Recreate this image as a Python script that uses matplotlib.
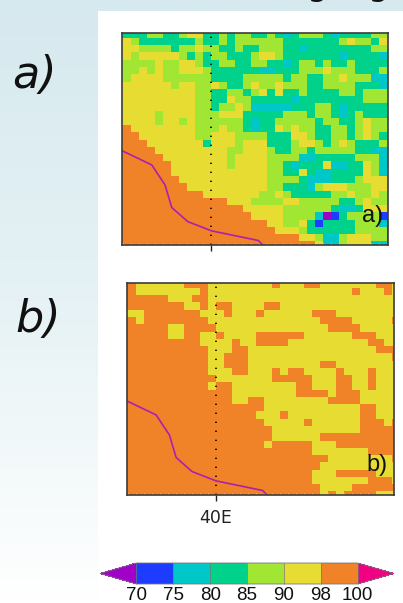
import matplotlib
matplotlib.use("Agg")
import matplotlib.pyplot as plt
import numpy as np
from matplotlib.colors import BoundaryNorm, ListedColormap, LinearSegmentedColormap
from matplotlib.patches import Rectangle

W, H = 403, 603

levels = [70, 75, 80, 85, 90, 98, 100]
level_colors = ["#1E3CFF", "#00C8C8", "#00D28C", "#A0E632", "#E6DC32", "#F08228"]
under_color = "#A000C8"
over_color = "#F00082"

# one representative value per colour class, used to decode the rows below
class_values = {"P": 68, "B": 72, "C": 77, "G": 82, "L": 87, "Y": 94, "O": 99}

lon_edges = np.arange(34.0, 51.75, 0.5)
lat_edges = np.arange(25.0, 9.75, -0.5)

# rows run north to south, one letter per 0.5 degree cell
panel_a_rows = [
    "GGGGLLGGLYYGGLGLLGGLGCGLLLGCGGGGLLL",
    "YYLGGGGGGGLGGLGLLLLLLGGGGGGGLYLLGYL",
    "YYYLLLLGLLYLLGGLGGLLLGGCGGGGGGGGLLL",
    "YYLYYYYYLGLGLLGGGLYYLGGGGGGGCGGGGCC",
    "LLLLLYLLYYLGGLLGGLLGGCGLLGLGGLGGGGG",
    "LLLYLYLLYYYLGGGGGGCCGGGLLLYLLLGGGLL",
    "LLYYYYLLLLLLGGGGLLLLLGLLGGLLYLLLCCC",
    "YYYYYYYLYYLLYLGGLYLLYLLLGGLLLLGGGCC",
    "YYYYYYYYYYLLGGLLGLYGYGGLGGGGLLGLLLL",
    "YYYYYYYYYYLLGGYLLGGGGGCGGGGGGGGLLLL",
    "YYYYYYYYYYLLGLLYLCCCCCGGGLLGCGGGGGG",
    "YYYYYLYYYYLLLYYYGGGGGLLLGLLGCGLGGGG",
    "YYYYYLYYLYLLLLLLGCGGLLLLLGLLGGLYLLL",
    "OOYYYYYYYYLLLYLLGCGGYLYLLGGLLGLYLLL",
    "OOOYYYYYYYLLYYYLLLLGGGYYLGGLLGLYLGG",
    "OOOOYYYYYYYGYYYLYYYGGGLYYLGLYLGGGLL",
    "OOOOOYYYYYYYYYLLYYYLGGLLGLLLLLGGCCC",
    "OOOOOOYYYYYYYYLYYYYLLLLCCGGGGGLLLCC",
    "OOOOOOOYYYYYYYLYYYYLLGCGGGYCCGGYLCC",
    "OOOOOOOYYYYYYYYYYYYLLGGYGCCGGGGYLCL",
    "OOOOOOOOYYYYYYYYYYYLLLLGCCCGGGLYYYY",
    "OOOOOOOOOYYYYYYYYYYLLGGGCLYYYLLLYYL",
    "OOOOOOOOOOOYYYYYYYLLYLGGGGGLLYLLYLL",
    "OOOOOOOOOOOOOOYYYLLLLYYLLLLLGGLYLLL",
    "OOOOOOOOOOOOOOOOYYYYYLLLLLLGCCGYYYY",
    "OOOOOOOOOOOOOOOOOYYYYLLLLCPBGLLLLBB",
    "OOOOOOOOOOOOOOOOOOOYYLLYGBGGGGLLLCB",
    "OOOOOOOOOOOOOOOOOOOOYYYLGGGGGGLLLLB",
    "OOOOOOOOOOOOOOOOOOOOOOOYYLCCLYYYLLB",
    "OOOOOOOOOOOOOOOOOOOOOOOOOYCCLYYYCCB",
]

panel_b_rows = [
    "OOYYYYYYOOOYYYYYYYYOYYYOOYYYYYYYOOY",
    "OOYYYYYYYYOYYYYYYYYYYYYYYYYYYOYYYOY",
    "OOOOOOYYYOOYYYYYYYYYYYYYYYYYYYYYYYY",
    "OOOOOOOOYYOYOOYYYYOOYYYYYYYYYYYYYYY",
    "YYYOOOOOOOYYYOYYYOYYYYYYOOOYYYYYYYY",
    "OOYOOOOOOOOYYYYYYYYYYYYYYOOOOYYYYYO",
    "OOOOOOYYOOOOYYYYYYYYYYYYYYOOOOYYYYY",
    "OOOOOOYYOOYYOYYYYOOOOOOYYYYYYOOOYYY",
    "OOOOOOOOOOYYYYOYYOOOOYYYYYYYYYYOOYY",
    "OOOOOOOOOOOYYYOOYYYYYYYYYYYYYYYYOOO",
    "OOOOOOOOOOOYYOOOYYYYYYYYYYYYYYYYYYO",
    "OOOOOOOOOOOYYOOOYYYYYYYYYOOYYYYYYYY",
    "OOOOOOOOOOOYYYOOYYYOYOOYYYYOYYYOYYY",
    "OOOOOOOOOOOOYYYYYYYOOOOOYYYOOYYOYYY",
    "OOOOOOOOOOOYOOYYYYYYYYOOYYYOOYYOYYY",
    "OOOOOOOOOOOOOOYYYYYYYYOOOOYOOOYYYYY",
    "OOOOOOOOOOOOOOYYOOYYYYYYYYOOOOYYYYY",
    "OOOOOOOOOOOOOOOOOOYYYYYYYYYYYYOOYYY",
    "OOOOOOOOOOOOOOOOOYYYOYYYYYYYYYOOYYY",
    "OOOOOOOOOOOOOOOOOOYYYYYOYYYYYYOOOYO",
    "OOOOOOOOOOOOOOOOOOOYYYYYYYYYYYOOOOO",
    "OOOOOOOOOOOOOOOOOOOYYYYYYOOOOOOOOOO",
    "OOOOOOOOOOOOOOOOOOYOOOOOYYYOOOOOOOO",
    "OOOOOOOOOOOOOOOOOOOOOOOOYYYYYYYOOOO",
    "OOOOOOOOOOOOOOOOOOOOOOOOOOYYYYYYYYO",
    "OOOOOOOOOOOOOOOOOOOOOOOOOYYYYYYYYYY",
    "OOOOOOOOOOOOOOOOOOOOOOOOYYYOOOOOYYY",
    "OOOOOOOOOOOOOOOOOOOOOOOOYYYYYYYOOOY",
    "OOOOOOOOOOOOOOOOOOOOOOOOOYYYYOOOOOO",
    "OOOOOOOOOOOOOOOOOOOOOOOOOYOYOOOOYYY",
]

coast_lon = [34.44, 36.28, 37.11, 37.53, 38.53, 40.03, 42.94, 43.25]
coast_lat = [16.73, 15.76, 14.38, 12.83, 11.86, 11.22, 10.56, 10.20]


def decode(rows):
    return np.array([[class_values[c] for c in row] for row in rows], dtype=float)


def px_axes(fig, left, top, right, bottom):
    return fig.add_axes([left / W, 1 - bottom / H, (right - left) / W, (bottom - top) / H])


def draw_panel(ax, rows, cmap, norm, xlim, tag, tag_xy, xlabel=None):
    mesh = ax.pcolormesh(lon_edges, lat_edges, decode(rows), cmap=cmap, norm=norm, shading="flat")
    ax.plot(coast_lon, coast_lat, color="#B01EB0", lw=1.2)
    ax.axvline(40, color="black", lw=1.2, ls=(0, (0.8, 4.6)))
    ax.set_xlim(*xlim)
    ax.set_ylim(10.25, 24.82)
    ax.set_yticks([])
    ax.set_xticks([40])
    ax.set_xticklabels([xlabel or ""], fontsize=12.5, color="#222222")
    ax.set_xticks(lon_edges[(lon_edges > xlim[0]) & (lon_edges < xlim[1])], minor=True)
    ax.tick_params(axis="x", which="major", length=4, width=1, color="#222222", pad=6)
    ax.tick_params(axis="x", which="minor", direction="in", length=1.6, width=0.6, color="#F6E6B8")
    for spine in ax.spines.values():
        spine.set_edgecolor("#3C3C3C")
        spine.set_linewidth(1.2)
    ax.text(tag_xy[0], tag_xy[1], tag, fontsize=17, color="#111111", ha="center", va="center",
            family="Liberation Sans")
    return mesh


fig = plt.figure(figsize=(W / 100, H / 100), dpi=100)

# slide background: pale blue fading to white, white panel behind the maps
bg = fig.add_axes([0, 0, 1, 1])
bg_cmap = LinearSegmentedColormap.from_list("slide", ["#D6E9EE", "#E6F2F5", "#FFFFFF"])
bg.imshow(np.linspace(0, 1, 256).reshape(-1, 1), cmap=bg_cmap, aspect="auto", extent=[0, W, H, 0])
bg.add_patch(Rectangle((98, 11), W - 98, H - 11, facecolor="white", edgecolor="none"))
bg.set_xlim(0, W)
bg.set_ylim(H, 0)
bg.axis("off")

bg.text(34, 75, "a)", fontsize=32, style="italic", color="#111111", ha="center", va="center")
bg.text(38, 319, "b)", fontsize=32, style="italic", color="#111111", ha="center", va="center")
bg.text(317, -4.5, "g", fontsize=24, color="#111111", ha="center", va="baseline")
bg.text(378, -4.5, "g", fontsize=24, color="#111111", ha="center", va="baseline")

cmap = ListedColormap(level_colors)
cmap.set_under(under_color)
cmap.set_over(over_color)
norm = BoundaryNorm(levels, cmap.N)

ax_a = px_axes(fig, 122.3, 33.3, 388, 245)
mesh = draw_panel(ax_a, panel_a_rows, cmap, norm, (34.44, 51.04), "a)", (50.1, 12.25))

ax_b = px_axes(fig, 126.7, 283.3, 394, 495)
draw_panel(ax_b, panel_b_rows, cmap, norm, (34.44, 51.15), "b)", (50.08, 12.32), xlabel="40E")

# the triangles are drawn inside this axes, so it spans tip to tip
cax = px_axes(fig, 100, 563, 394, 584)
cbar = fig.colorbar(mesh, cax=cax, orientation="horizontal", extend="both", extendfrac=0.165,
                    spacing="uniform", ticks=levels, drawedges=True)
cbar.ax.set_xticklabels([str(v) for v in levels], fontsize=13.5, family="Liberation Sans", color="#111111")
cbar.ax.tick_params(length=0, pad=2)
cbar.outline.set_edgecolor("#777777")
cbar.outline.set_linewidth(0.6)
cbar.dividers.set_color("#777777")
cbar.dividers.set_linewidth(0.5)

fig.savefig("out.png", dpi=100)
